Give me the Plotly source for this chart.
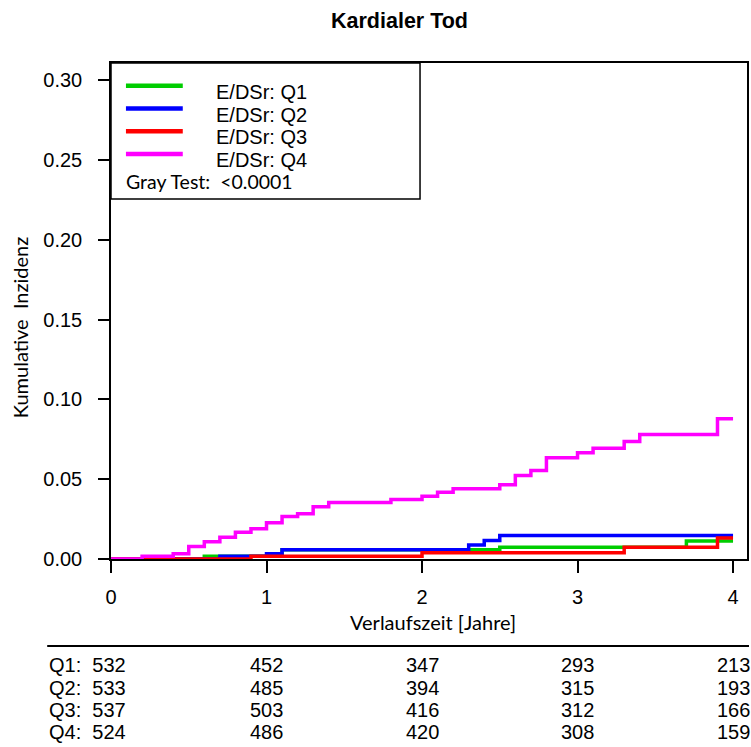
import plotly.graph_objects as go

# ---- data ----
groups = ["Q1", "Q2", "Q3", "Q4"]
legend_labels = ["E/DSr: Q1", "E/DSr: Q2", "E/DSr: Q3", "E/DSr: Q4"]
colors = ["#00CD00", "#0000FF", "#FF0000", "#FF00FF"]

t_q1 = [0, 0.6, 1.1, 2.5, 3.7, 4.0]
ci_q1 = [0, 0.0018, 0.0058, 0.0073, 0.0113, 0.0113]

t_q2 = [0, 0.7, 1.0, 1.1, 2.3, 2.4, 2.5, 4.0]
ci_q2 = [0, 0.0018, 0.0033, 0.0058, 0.0088, 0.0116, 0.0147, 0.0147]

t_q3 = [0, 0.9, 2.0, 3.3, 3.9, 4.0]
ci_q3 = [0, 0.0018, 0.0039, 0.0073, 0.0132, 0.0132]

t_q4 = [0, 0.2, 0.4, 0.5, 0.6, 0.7, 0.8, 0.9, 1.0, 1.1, 1.2, 1.3, 1.4, 1.8,
        2.0, 2.1, 2.2, 2.5, 2.6, 2.7, 2.8, 3.0, 3.1, 3.3, 3.4, 3.9, 4.0]
ci_q4 = [0, 0.0018, 0.0033, 0.0078, 0.0108, 0.0137, 0.0168, 0.0189, 0.0227,
         0.0266, 0.0283, 0.0327, 0.0354, 0.0373, 0.0393, 0.0419, 0.044,
         0.0465, 0.0523, 0.0554, 0.0634, 0.0665, 0.0694, 0.0736, 0.078,
         0.0878, 0.0878]

times = [t_q1, t_q2, t_q3, t_q4]
values = [ci_q1, ci_q2, ci_q3, ci_q4]

risk_times = [0, 1, 2, 3, 4]
risk_q1 = [532, 452, 347, 293, 213]
risk_q2 = [533, 485, 394, 315, 193]
risk_q3 = [537, 503, 416, 312, 166]
risk_q4 = [524, 486, 420, 308, 159]
risk_table = [risk_q1, risk_q2, risk_q3, risk_q4]

x_ticks = [0, 1, 2, 3, 4]
y_ticks = [0, 0.05, 0.10, 0.15, 0.20, 0.25, 0.30]

title_text = "Kardialer Tod"
x_title = "Verlaufszeit [Jahre]"
y_title = "Kumulative\u00a0 Inzidenz"
gray_test = "Gray Test:\u00a0 <0.0001"

# ---- layout geometry (pixels) ----
W, H = 751, 747
L, R, T, B = 111, 749, 63, 559


def px(x):
    return (x - L) / (R - L)


def py(y):
    return (B - y) / (B - T)


ARIAL = "Liberation Sans, Arial, sans-serif"
CAL = "Lato, Carlito, Calibri, sans-serif"

fig = go.Figure()
for g, t, v, c in zip(groups, times, values, colors):
    fig.add_trace(go.Scatter(x=t, y=v, mode="lines", line=dict(color=c, width=3.5, shape="hv"),
                             name=g, showlegend=False, hoverinfo="skip"))

shapes = []
annotations = []

# legend box
shapes.append(dict(type="rect", xref="paper", yref="paper", x0=0, x1=px(421), y0=py(199), y1=1,
                   line=dict(color="black", width=1.5), fillcolor="white", layer="above"))
leg_line_y = [85.7, 108.5, 131.2, 154.0]
leg_text_y = [92, 114.5, 137, 159.5]
for lab, c, ly, ty in zip(legend_labels, colors, leg_line_y, leg_text_y):
    shapes.append(dict(type="line", xref="paper", yref="paper", x0=px(126), x1=px(183), y0=py(ly), y1=py(ly),
                       line=dict(color=c, width=4.5), layer="above"))
    annotations.append(dict(text=lab, xref="paper", yref="paper", x=px(214), y=py(ty), xanchor="left",
                            yanchor="middle", showarrow=False, font=dict(family=ARIAL, size=20, color="black")))
annotations.append(dict(text=gray_test, xref="paper", yref="paper", x=px(124), y=py(181), xanchor="left",
                        yanchor="middle", showarrow=False, font=dict(family=CAL, size=19.5, color="black")))

# title
annotations.append(dict(text="<b>" + title_text + "</b>", xref="paper", yref="paper", x=px(400), y=py(21),
                        xanchor="center", yanchor="middle", showarrow=False,
                        font=dict(family=ARIAL, size=21.5, color="black")))
# axis titles
annotations.append(dict(text=x_title, xref="paper", yref="paper", x=px(434), y=py(622),
                        xanchor="center", yanchor="middle", showarrow=False,
                        font=dict(family=CAL, size=20, color="black")))
annotations.append(dict(text=y_title, xref="paper", yref="paper", x=px(20), y=py(327), textangle=-90,
                        xanchor="center", yanchor="middle", showarrow=False,
                        font=dict(family=CAL, size=20, color="black")))

# separator line above risk table
shapes.append(dict(type="line", xref="paper", yref="paper", x0=px(47), x1=px(751), y0=py(646), y1=py(646),
                   line=dict(color="black", width=2)))

# risk table
row_y = [665, 687.5, 709.5, 732]
for g, row, ry in zip(groups, risk_table, row_y):
    annotations.append(dict(text=f"{g}:\u00a0 {row[0]}", xref="paper", yref="paper", x=px(47), y=py(ry),
                            xanchor="left", yanchor="middle", showarrow=False,
                            font=dict(family=ARIAL, size=20, color="black")))
    for tt, n in zip(risk_times[1:], row[1:]):
        annotations.append(dict(text=str(n), xref="x", yref="paper", x=tt, y=py(ry),
                                xanchor="center", yanchor="middle", showarrow=False,
                                font=dict(family=ARIAL, size=20, color="black")))

fig.update_layout(
    width=W, height=H,
    margin=dict(l=L, r=W - R, t=T, b=H - B, pad=0),
    plot_bgcolor="white", paper_bgcolor="white",
    shapes=shapes, annotations=annotations,
    showlegend=False,
    xaxis=dict(range=[0, (R - L) / 156.0], tickvals=x_ticks, ticktext=[str(v) for v in x_ticks],
               ticks="outside", ticklen=12, tickwidth=1.5, tickcolor="black",
               showline=True, linecolor="black", linewidth=1.5, mirror=True,
               showgrid=False, zeroline=False, ticklabelstandoff=7,
               tickfont=dict(family=ARIAL, size=20, color="black")),
    yaxis=dict(range=[0, (B - T) / 1596.0], tickvals=y_ticks, ticktext=[f"{v:.2f}" for v in y_ticks],
               ticks="outside", ticklen=11, tickwidth=1.5, tickcolor="black",
               showline=True, linecolor="black", linewidth=1.5, mirror=True,
               showgrid=False, zeroline=False, ticklabelstandoff=12,
               tickfont=dict(family=ARIAL, size=20, color="black")),
)

fig.write_html("out.html")
